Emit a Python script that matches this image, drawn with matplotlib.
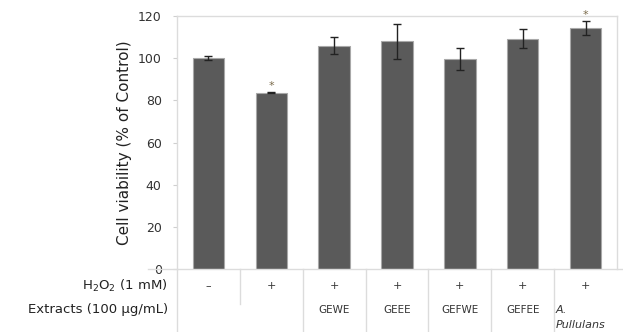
import matplotlib
matplotlib.use("Agg")
import matplotlib.pyplot as plt
from matplotlib.transforms import blended_transform_factory

plt.rcParams['font.family'] = ['DejaVu Sans']

# data
groups = ["Control", "H2O2", "GEWE", "GEEE", "GEFWE", "GEFEE", "A. Pullulans"]
values = [100.0, 83.7, 106.0, 108.0, 99.7, 109.3, 114.5]
errors = [1.1, 0.3, 4.2, 8.3, 5.1, 4.7, 3.3]
signif = [False, True, False, False, False, False, True]
h2o2_row = ["\u2013", "+", "+", "+", "+", "+", "+"]
extract_row = ["", "", "GEWE", "GEEE", "GEFWE", "GEFEE", None]
yticks = [0, 20, 40, 60, 80, 100, 120]

fig = plt.figure(figsize=(6.23, 3.32), dpi=100)
ax = fig.add_axes([177/623, 1 - 269/332, (617-177)/623, (269-16)/332])

x = list(range(len(groups)))
ax.bar(x, values, width=0.5, color="#5a5a5a", edgecolor="#a8a8a8", linewidth=0.8,
       yerr=errors, capsize=3, error_kw=dict(ecolor="#222222", elinewidth=1, capthick=1))
ax.set_xlim(-0.5, len(groups) - 0.5)
ax.set_ylim(0, 120)
ax.set_yticks(yticks)
ax.set_yticklabels([str(t) for t in yticks], fontsize=9, color="#333333")
ax.tick_params(axis="y", length=3, color="#cfcfcf", pad=8)
ax.set_xticks([])
for s in ["left", "top", "right", "bottom"]:
    ax.spines[s].set_color("#dcdcdc")
    ax.spines[s].set_linewidth(1)
ax.spines["bottom"].set_visible(False)

ax.set_ylabel("Cell viability (% of Control)", fontsize=11, color="#222222", labelpad=4)

for xi, v, e, s in zip(x, values, errors, signif):
    if s:
        ax.text(xi, v + e + 0.5, "*", ha="center", va="bottom", fontsize=8, color="#7a6a4a")

tr = blended_transform_factory(ax.transData, fig.transFigure)
trf = fig.transFigure
# bottom horizontal line
fig.add_artist(plt.Line2D([148/623, 1], [1 - 269/332, 1 - 269/332], transform=trf,
                          color="#dcdcdc", lw=1))
# left spine extension
fig.add_artist(plt.Line2D([177/623, 177/623], [0, 1 - 269/332], transform=trf,
                          color="#dcdcdc", lw=1))
# vertical separators
for b in range(1, len(groups)):
    y0 = 1 - 304/332 if b == 1 else 0
    fig.add_artist(plt.Line2D([b - 0.5, b - 0.5], [y0, 1 - 269/332], transform=tr,
                              color="#dcdcdc", lw=1))

y_h = 1 - 286/332
y_e = 1 - 310/332
fig.text(168/623, y_h, "H$_2$O$_2$ (1 mM)", ha="right", va="center", fontsize=9.5, color="#222222")
fig.text(168/623, y_e, "Extracts (100 \u03bcg/mL)", ha="right", va="center", fontsize=9.5, color="#222222")
for xi, h, ex in zip(x, h2o2_row, extract_row):
    fig.text(xi, y_h, h, transform=tr, ha="center", va="center", fontsize=8, color="#333333")
    if ex:
        fig.text(xi, y_e, ex, transform=tr, ha="center", va="center", fontsize=7.5, color="#333333")
fig.text(len(groups) - 1.47, y_e, "A.", transform=tr, ha="left", va="center",
         fontsize=8, style="italic", color="#333333")
fig.text(len(groups) - 1.47, 1 - 325/332, "Pullulans", transform=tr, ha="left", va="center",
         fontsize=8, style="italic", color="#333333")

fig.savefig("out.png", dpi=100)
